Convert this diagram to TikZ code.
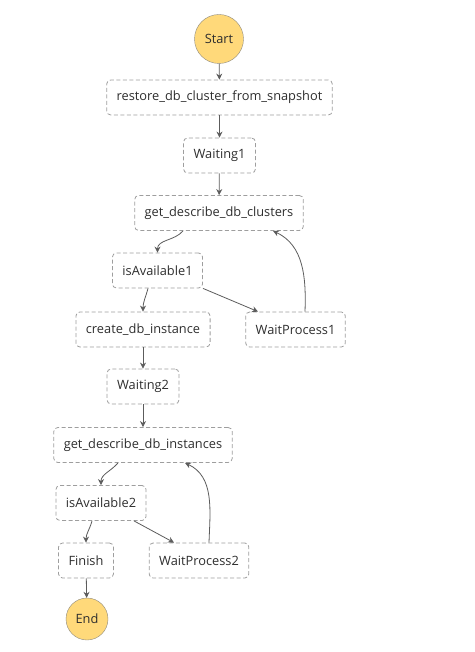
\documentclass[tikz,border=0pt]{standalone}
\usepackage{fontspec}
\setmainfont{Open Sans}
\usepackage{tikz}
\usetikzlibrary{arrows.meta}
\definecolor{termfill}{HTML}{FFD97A}
\definecolor{termline}{HTML}{8F8A7E}
\definecolor{boxline}{HTML}{9E9E9E}
\definecolor{flowline}{HTML}{5C5C5C}
\definecolor{labeltext}{HTML}{2E2E2E}

\begin{document}
\begin{tikzpicture}[x=1pt,y=-1pt,
		state/.style={draw=boxline,line width=0.8pt,dashed,dash pattern=on 4pt off 2.5pt,rounded corners=4pt,fill=white,
			minimum height=35pt,inner xsep=10pt,text=labeltext,font=\fontsize{12.8}{15}\selectfont},
		term/.style={circle,draw=termline,fill=termfill,inner sep=0pt,text=labeltext,font=\fontsize{12.8}{15}\selectfont},
		flow/.style={draw=flowline,line width=0.8pt,-{Stealth[length=6pt,width=6pt]}}]
		\useasboundingbox (0,0) rectangle (474,652);
		\node [term,minimum size=49pt] (start) at (219,39) {Start};
		\node [state] (restore) at (219.5,97.5) {restore\_db\_cluster\_from\_snapshot};
		\node [state] (waiting1) at (219.5,155.5) {Waiting1};
		\node [state] (clusters) at (219,213) {get\_describe\_db\_clusters};
		\node [state] (avail1) at (157.5,270.5) {isAvailable1};
		\node [state] (create) at (143,329.5) {create\_db\_instance};
		\node [state] (waitproc1) at (295.5,329.5) {WaitProcess1};
		\node [state] (waiting2) at (143,386.5) {Waiting2};
		\node [state] (instances) at (143,445) {get\_describe\_db\_instances};
		\node [state] (avail2) at (101,503) {isAvailable2};
		\node [state] (finish) at (86,560.5) {Finish};
		\node [state] (waitproc2) at (199,560.5) {WaitProcess2};
		\node [term,minimum size=42pt] (end) at (87,619) {End};

		% main path
		\draw [flow] (start) -- (restore);
		\draw [flow] (restore) -- (waiting1);
		\draw [flow] (waiting1) -- (clusters);
		\draw [flow] ([xshift=-36pt]clusters.south) to[out=-130,in=90] (avail1.north);
		\draw [flow] ([xshift=-9.5pt]avail1.south) to[out=-105,in=90] (create.north);
		\draw [flow] (avail1.south east) -- ([xshift=-37.5pt]waitproc1.north);
		\draw [flow] ([xshift=9.5pt]waitproc1.north) to[out=88,in=-25] ([xshift=54pt]clusters.south);
		\draw [flow] (create) -- (waiting2);
		\draw [flow] (waiting2) -- (instances);
		\draw [flow] ([xshift=-25pt]instances.south) to[out=-130,in=90] (avail2.north);
		\draw [flow] ([xshift=-9pt]avail2.south) to[out=-105,in=90] (finish.north);
		\draw [flow] ([xshift=33pt]avail2.south) -- ([xshift=-25pt]waitproc2.north);
		\draw [flow] ([xshift=10pt]waitproc2.north) to[out=88,in=-25] ([xshift=42pt]instances.south);
		\draw [flow] (finish) -- (end);
\end{tikzpicture}
\end{document}
